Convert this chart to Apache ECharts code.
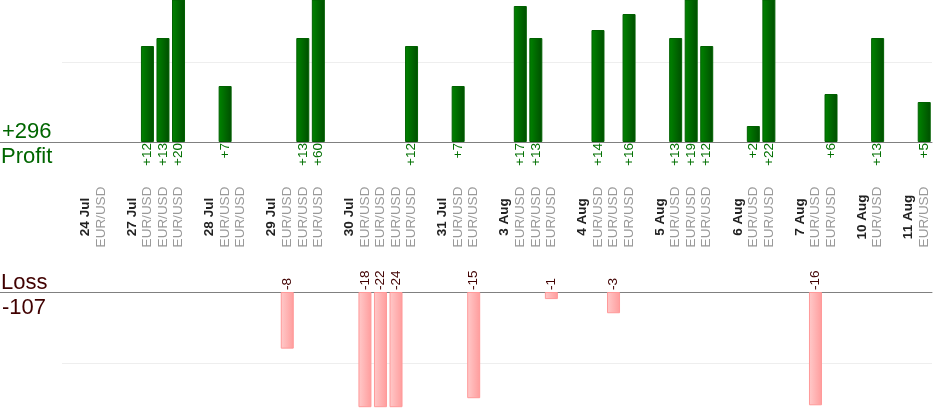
<!DOCTYPE html>
<html>
<head>
<meta charset="utf-8">
<script src="https://cdn.jsdelivr.net/npm/echarts@6/dist/echarts.min.js"></script>
<style>
	body { margin: 0; background: #fff; }
	#main { width: 934px; height: 420px; }
</style>
</head>
<body>
<div id="main"></div>
<script>
	// 交易日期和每笔交易结果（正数为盈利，负数为亏损，0 为无结果）
	var pair = 'EUR/USD';
	var days = ['24 Jul', '27 Jul', '28 Jul', '29 Jul', '30 Jul', '31 Jul', '3 Aug', '4 Aug', '5 Aug', '6 Aug', '7 Aug', '10 Aug', '11 Aug'];
	var results = [
		[0],
		[12, 13, 20],
		[7, 0],
		[-8, 13, 60],
		[-18, -22, -24, 12],
		[7, -15],
		[17, 13, -1],
		[14, -3, 16],
		[13, 19, 12],
		[2, 22],
		[-16, 6],
		[13],
		[5]
	];

	// 每天之前留一个空位，再放日期，再放交易
	var catLabels = [];
	var profit = [];
	var loss = [];
	days.forEach(function(d, i) {
		catLabels.push('', d);
		profit.push(null, null);
		loss.push(null, null);
		results[i].forEach(function(v) {
			catLabels.push(pair);
			profit.push(v > 0 ? v : null);
			loss.push(v < 0 ? -v : null);
		});
	});
	var totalProfit = profit.reduce(function(a, b) { return a + (b || 0); }, 0);
	var totalLoss = loss.reduce(function(a, b) { return a + (b || 0); }, 0);
	var catKeys = catLabels.map(function(_, i) { return String(i); });

	var font = 'Liberation Sans, Arial, sans-serif';
	var topBase = 142;
	var bottomBase = 292;
	var plotLeft = 62;

	var myChart = echarts.init(document.getElementById('main'));

	var option = {
		backgroundColor: '#fff',
		animation: false,
		textStyle: { fontFamily: font },
		grid: [
			{ left: plotLeft, right: 2, top: 0, height: topBase },
			{ left: plotLeft, right: 2, top: bottomBase, height: 114.7 }
		],
		xAxis: [{
			gridIndex: 0,
			type: 'category',
			data: catKeys,
			axisLine: { lineStyle: { color: '#808080' } },
			axisTick: { show: false },
			axisLabel: {
				interval: 0,
				rotate: 90,
				align: 'center',
				verticalAlign: 'middle',
				margin: 75,
				formatter: function(v, idx) {
					var t = catLabels[idx];
					if(!t) return '';
					return t === pair ? '{p|' + t + '}' : '{d|' + t + '}';
				},
				rich: {
					d: { fontFamily: font, fontSize: 13.5, fontWeight: 'bold', color: '#222' },
					p: { fontFamily: font, fontSize: 13.5, color: '#999' }
				}
			}
		}, {
			gridIndex: 1,
			type: 'category',
			data: catKeys,
			axisLine: { lineStyle: { color: '#808080' } },
			axisTick: { show: false },
			axisLabel: { show: false }
		}],
		yAxis: [{
			gridIndex: 0,
			type: 'value',
			min: 0,
			max: 17.75,
			interval: 10,
			axisLine: { show: false },
			axisTick: { show: false },
			axisLabel: { show: false },
			splitLine: { show: true, showMinLine: false, showMaxLine: false, lineStyle: { color: '#eeeeee' } }
		}, {
			gridIndex: 1,
			type: 'value',
			inverse: true,
			min: 0,
			max: 16.2,
			interval: 10,
			axisLine: { show: false },
			axisTick: { show: false },
			axisLabel: { show: false },
			splitLine: { show: true, showMinLine: false, showMaxLine: false, lineStyle: { color: '#eeeeee' } }
		}],
		series: [{
			name: 'Profit',
			type: 'bar',
			xAxisIndex: 0,
			yAxisIndex: 0,
			data: profit,
			barWidth: 13,
			clip: true,
			itemStyle: {
				color: new echarts.graphic.LinearGradient(0, 0, 1, 0, [
					{ offset: 0, color: '#008400' },
					{ offset: 1, color: '#004e00' }
				]),
				borderColor: '#006000',
				borderWidth: 1
			},
			label: {
				show: true,
				position: 'bottom',
				distance: 1,
				rotate: 90,
				align: 'right',
				verticalAlign: 'middle',
				fontFamily: font,
				fontSize: 13.5,
				color: '#007000',
				formatter: function(p) { return '+' + p.value; }
			}
		}, {
			name: 'Loss',
			type: 'bar',
			xAxisIndex: 1,
			yAxisIndex: 1,
			data: loss,
			barWidth: 13,
			clip: true,
			itemStyle: {
				color: new echarts.graphic.LinearGradient(0, 0, 1, 0, [
					{ offset: 0, color: '#ffcaca' },
					{ offset: 1, color: '#ff9c9c' }
				]),
				borderColor: '#ff9999',
				borderWidth: 1
			},
			label: {
				show: true,
				position: 'top',
				distance: 2,
				rotate: 90,
				align: 'left',
				verticalAlign: 'middle',
				fontFamily: font,
				fontSize: 13.5,
				color: '#400000',
				formatter: function(p) { return '-' + p.value; }
			}
		}],
		graphic: [
			{ type: 'line', shape: { x1: 0, y1: topBase + 0.5, x2: plotLeft, y2: topBase + 0.5 }, style: { stroke: '#808080', lineWidth: 1 }, silent: true },
			{ type: 'line', shape: { x1: 0, y1: bottomBase + 0.5, x2: plotLeft, y2: bottomBase + 0.5 }, style: { stroke: '#808080', lineWidth: 1 }, silent: true },
			{ type: 'text', left: 2, top: 121, style: { text: '+' + totalProfit, font: '22px ' + font, fill: '#006600' } },
			{ type: 'text', left: 1, top: 146, style: { text: 'Profit', font: '22px ' + font, fill: '#006600' } },
			{ type: 'text', left: 1, top: 272, style: { text: 'Loss', font: '22px ' + font, fill: '#400000' } },
			{ type: 'text', left: 2, top: 297, style: { text: '-' + totalLoss, font: '22px ' + font, fill: '#400000' } }
		]
	};

	myChart.setOption(option);
</script>
</body>
</html>
